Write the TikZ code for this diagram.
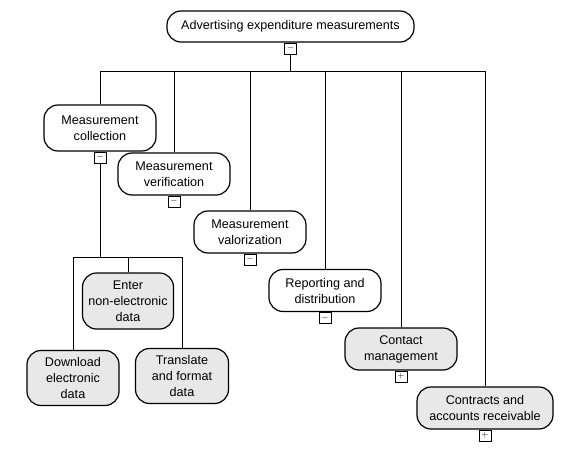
\documentclass[tikz,border=0pt]{standalone}
\usepackage{fontspec}
\setmainfont{Liberation Sans}
\usetikzlibrary{positioning}

\tikzset{
  task/.style={draw, line width=1.2pt, rounded corners=14pt, align=center,
    minimum width=112pt, minimum height=42pt, inner sep=2pt,
    font=\fontsize{12.6}{16}\selectfont},
  leaf/.style={task, fill=gray!18},
  tog/.style={draw, line width=1pt, fill=white, anchor=north,
    minimum width=12pt, minimum height=11pt, inner sep=0pt, font=\small\bfseries},
  link/.style={line width=0.8pt}
}

\begin{document}
\begin{tikzpicture}[x=1pt, y=-1pt]
\useasboundingbox (0,0) rectangle (574,450);

% main tasks
\node[task, minimum width=247pt, minimum height=31pt] (root) at (290.5,26.5) {Advertising expenditure measurements};
\node[task, minimum height=46pt] (coll) at (100,128) {Measurement\\collection};
\node[task] (veri) at (174,174) {Measurement\\verification};
\node[task] (valo) at (250,232) {Measurement\\valorization};
\node[task] (repo) at (325,290.5) {Reporting and\\distribution};
\node[leaf] (cont) at (401,349) {Contact\\management};
\node[leaf, minimum width=136pt] (ctra) at (485,408) {Contracts and\\accounts receivable};

% sub tasks of collection
\node[leaf, minimum width=91pt, minimum height=56pt] (ente) at (128,301) {Enter\\non-electronic\\data};
\node[leaf, minimum width=92pt, minimum height=55pt] (down) at (73,378) {Download\\electronic\\data};
\node[leaf, minimum width=93pt, minimum height=55pt] (tran) at (182,376) {Translate\\and format\\data};

% toggles
\node[tog] (roott) at (root.south) {$-$};
\node[tog] (collt) at (coll.south) {$-$};
\node[tog] (verit) at (veri.south) {$-$};
\node[tog] (valot) at (valo.south) {$-$};
\node[tog] (repot) at (repo.south) {$-$};
\node[tog] (contt) at (cont.south) {$+$};
\node[tog] (ctrat) at (ctra.south) {$+$};

% connectors
\coordinate (busL) at (100,71);
\coordinate (busR) at (485,71);
\coordinate (subL) at (73,257);
\coordinate (subR) at (182,257);

\draw[link] (roott.south) -- (roott.south |- busL);
\draw[link] (busL) -- (busR);
\foreach \n in {coll,veri,valo,repo,cont,ctra}
  \draw[link] (\n.north) -- (\n.north |- busL);

\draw[link] (collt.south) -- (collt.south |- subL);
\draw[link] (subL) -- (subR);
\foreach \n in {down,ente,tran}
  \draw[link] (\n.north) -- (\n.north |- subL);
\end{tikzpicture}
\end{document}
